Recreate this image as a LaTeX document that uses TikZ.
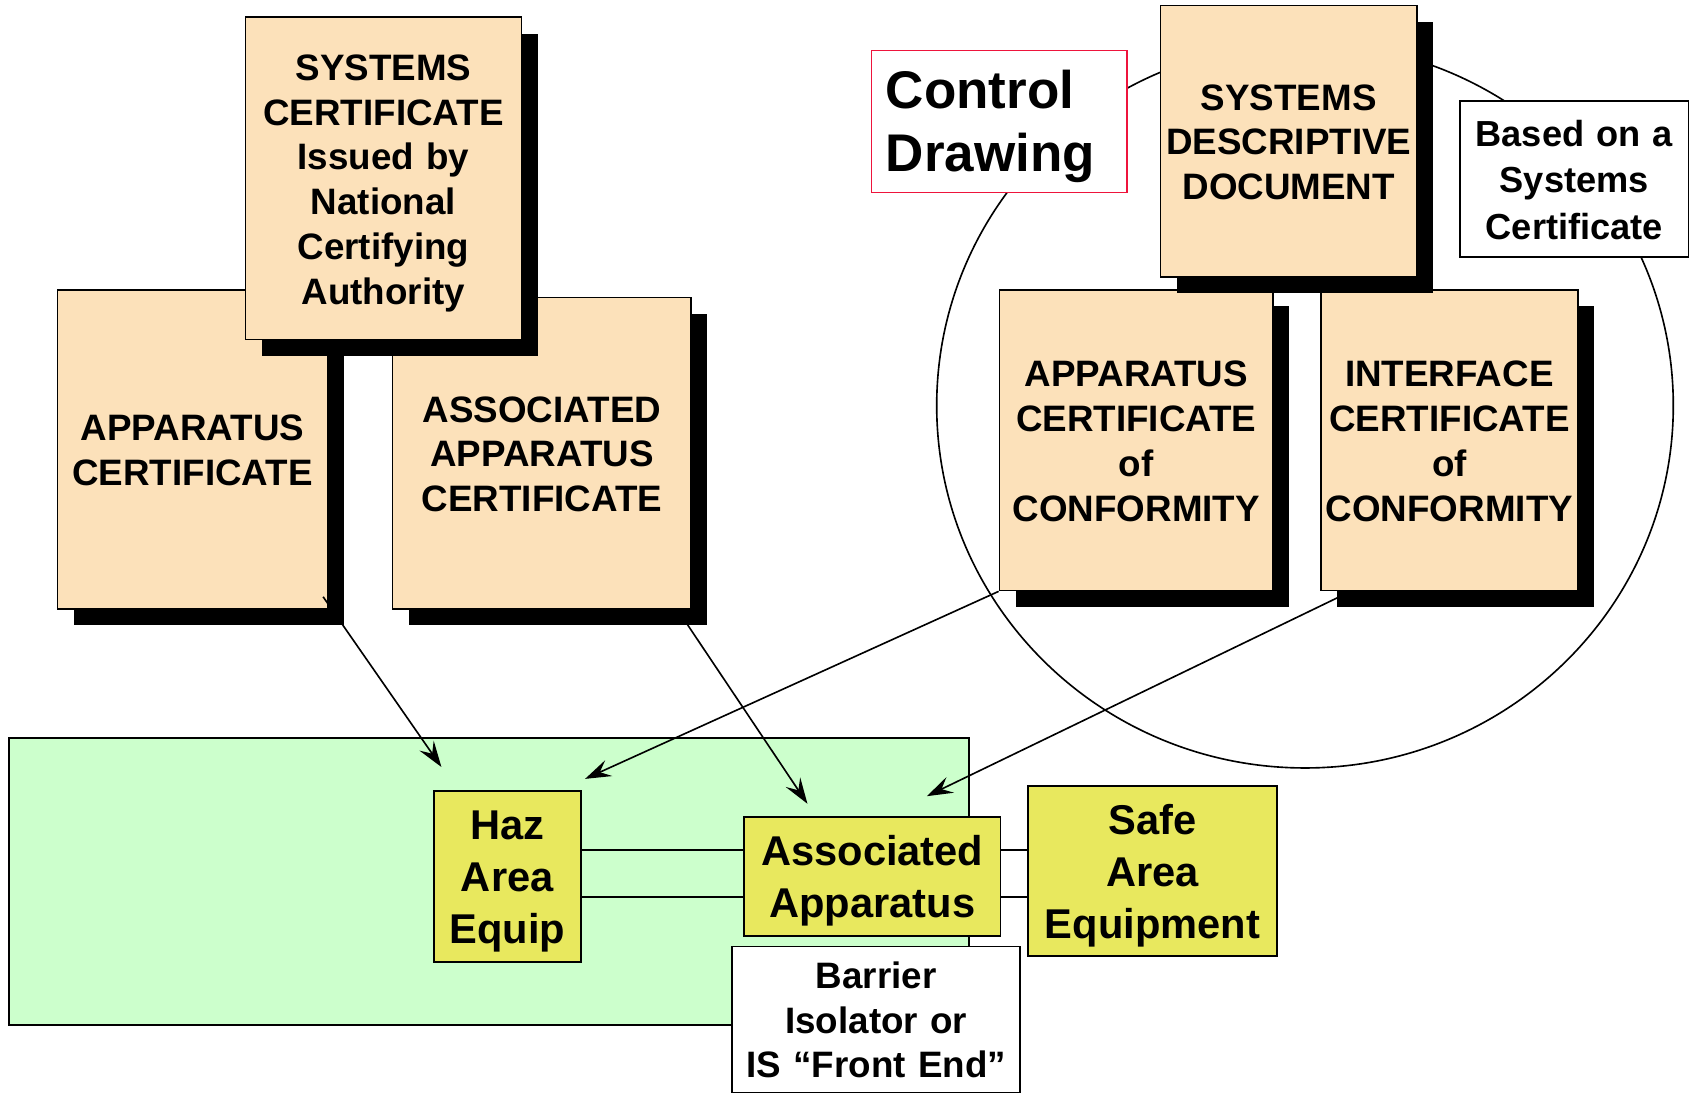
\documentclass[tikz,border=0pt]{standalone}
\usepackage{fontspec}
\setmainfont{Liberation Sans}
\usepackage{tikz}
\usetikzlibrary{positioning,shadows,arrows.meta}

\definecolor{certtan}{RGB}{252,225,186}
\definecolor{hazgreen}{RGB}{204,255,204}
\definecolor{equipyellow}{RGB}{232,232,94}
\definecolor{ctrlred}{RGB}{238,20,60}

\tikzset{
  boxw/.style={minimum width=#1, text width=#1},
  struts/.style={execute at begin node={\rule{0pt}{1em}},
    execute at end node={\rule[-0.25em]{0pt}{0.25em}}},
  cert/.style={draw, fill=certtan, line width=1.5pt, align=center,
    inner sep=0pt, font=\bfseries\fontsize{34}{41.4}\selectfont, struts,
    drop shadow={shadow xshift=15pt, shadow yshift=-15pt, fill=black, opacity=1}},
  equip/.style={draw, fill=equipyellow, line width=1.8pt, align=center,
    inner sep=0pt, font=\bfseries\fontsize{38.5}{48}\selectfont, struts},
  note/.style={draw, fill=white, line width=1.5pt, align=center,
    inner sep=0pt, font=\bfseries\fontsize{33.5}{43}\selectfont, struts},
  link/.style={line width=2pt},
  feed/.style={line width=1.5pt, -{Stealth[length=24pt, width=16pt, inset=9pt]}}
}

\begin{document}
\begin{tikzpicture}[x=1pt, y=-1pt]
        \useasboundingbox (0,0) rectangle (1568,1011);
        % Control drawing circle
        \draw[line width=1.5pt] (1206.5,375) ellipse [x radius=340.5, y radius=335];
        % Certificates (left)
        \node[cert, boxw=250pt, minimum height=295pt] (appcert) at (178,415.5)
            {APPARATUS\\CERTIFICATE};
        \node[cert, boxw=276pt, minimum height=288pt] (assoccert) at (501,419)
            {ASSOCIATED\\APPARATUS\\CERTIFICATE};
        \node[cert, boxw=255pt, minimum height=298pt] (syscert) at (354.5,165)
            {SYSTEMS\\CERTIFICATE\\Issued by\\National\\Certifying\\Authority};
        % Certificates (right)
        \node[cert, boxw=253pt, minimum height=278pt] (appcoc) at (1050.5,407)
            {APPARATUS\\CERTIFICATE\\of\\CONFORMITY};
        \node[cert, boxw=238pt, minimum height=278pt] (ifcoc) at (1340,407)
            {INTERFACE\\CERTIFICATE\\of\\CONFORMITY};
        \node[cert, boxw=237pt, minimum height=251pt] (sdd) at (1191.5,130.5)
            {SYSTEMS\\DESCRIPTIVE\\DOCUMENT};
        % Labels
        \node[draw=ctrlred, fill=white, line width=1.2pt, align=left, inner sep=0pt,
            text width=210pt, minimum width=236pt, minimum height=131pt,
            execute at begin node={\rule{0pt}{0.9em}},
            font=\bfseries\fontsize{49}{58}\selectfont] (ctrl) at (924,112.5)
            {Control\\Drawing};
        \node[note, boxw=211pt, minimum height=144pt] (based) at (1455.5,165.5)
            {Based on a\\Systems\\Certificate};
        % Hazardous area
        \draw[line width=1.8pt, fill=hazgreen] (8,682) rectangle (896,948);
        \node[equip, boxw=136pt, minimum height=158pt] (haz) at (469,810)
            {Haz\\Area\\Equip};
        \node[equip, boxw=237pt, minimum height=110pt] (assoc) at (806.5,810)
            {Associated\\Apparatus};
        \node[equip, boxw=231pt, minimum height=157pt] (safe) at (1065.5,805.5)
            {Safe\\Area\\Equipment};
        \node[note, font=\bfseries\fontsize{34}{41}\selectfont,
            boxw=266pt, minimum height=135pt] (barrier) at (810,942.5)
            {Barrier\\Isolator or\\IS ``Front End''};
        % Wiring
        \draw[link] ([yshift=24pt]haz.east) -- ([yshift=24pt]assoc.west);
        \draw[link] ([yshift=-19pt]haz.east) -- ([yshift=-19pt]assoc.west);
        \draw[link] ([yshift=24pt]assoc.east) -- ([yshift=24pt]assoc.east -| safe.west);
        \draw[link] ([yshift=-19pt]assoc.east) -- ([yshift=-19pt]assoc.east -| safe.west);
        % Arrows
        \draw[feed] ([xshift=-5pt, yshift=12pt]appcert.south east)
            -- ([xshift=8pt, yshift=21pt]haz.north west);
        \draw[feed] ([xshift=-8pt, yshift=-8pt]assoccert.south east)
            -- ([xshift=-60pt, yshift=11pt]assoc.north);
        \draw[feed] (appcoc.south west) -- ([xshift=3pt, yshift=10pt]haz.north east);
        \draw[feed] ([xshift=16pt, yshift=-6pt]ifcoc.south west)
            -- ([xshift=-69pt, yshift=18pt]assoc.north east);
\end{tikzpicture}
\end{document}
